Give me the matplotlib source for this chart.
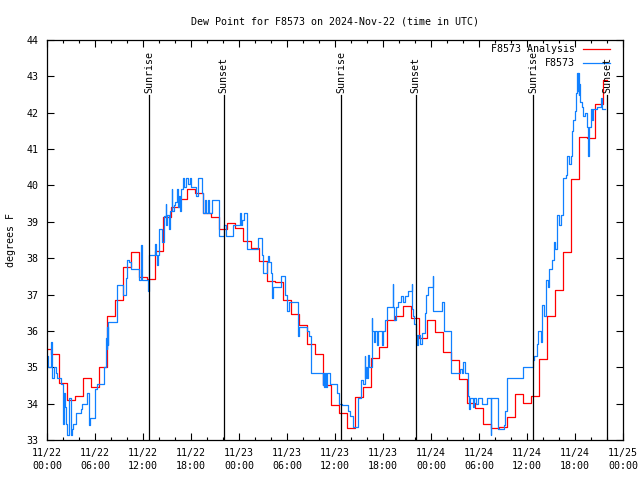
import numpy as np
import matplotlib
matplotlib.use("Agg")
import matplotlib.pyplot as plt
from datetime import datetime, timedelta

# hourly analysis values (hours since 2024-11-22 00:00 UTC)
analysis_hours = list(range(71))
analysis_vals = [35.5, 35.37, 34.57, 34.1, 34.22, 34.7, 34.46, 35.0, 36.4, 36.84,
                 37.77, 38.16, 37.49, 37.43, 38.19, 39.12, 39.42, 39.62, 39.91, 39.78,
                 39.25, 39.14, 38.79, 38.96, 38.82, 38.47, 38.27, 37.92, 37.38, 37.34,
                 36.85, 36.47, 36.16, 35.64, 35.37, 34.51, 33.96, 33.73, 33.32, 34.19,
                 34.47, 35.25, 35.55, 36.3, 36.42, 36.69, 36.36, 35.8, 36.3, 35.98,
                 35.43, 35.2, 34.67, 34.03, 33.89, 33.44, 33.32, 33.37, 33.64, 34.26,
                 34.03, 34.22, 35.22, 36.41, 37.13, 38.18, 40.18, 41.34, 41.3, 42.23,
                 42.9]

# station observations: change times (hours) and values
obs_hours = [0.0, 0.1, 0.54, 0.61, 0.91, 1.09, 1.29, 1.75, 1.96, 2.04,
             2.1, 2.25, 2.38, 2.54, 2.79, 3.0, 3.16, 3.29, 3.63, 4.25,
             4.41, 4.96, 5.25, 5.41, 6.04, 6.21, 7.16, 7.41, 7.48, 7.54,
             7.6, 7.66, 8.79, 9.54, 9.88, 10.04, 10.29, 10.46, 11.54, 11.79,
             11.86, 12.66, 12.79, 13.5, 13.6, 13.79, 13.88, 14.04, 14.34, 14.63,
             14.84, 14.91, 15.0, 15.29, 15.38, 15.59, 15.66, 15.88, 16.0, 16.29,
             16.38, 16.54, 16.63, 16.75, 16.96, 17.16, 17.38, 17.66, 17.88, 18.06,
             18.63, 18.91, 19.34, 19.54, 19.75, 19.84, 20.13, 20.21, 20.59, 21.5,
             22.13, 22.38, 23.21, 24.13, 24.25, 24.38, 24.66, 24.96, 25.04, 26.41,
             26.91, 27.04, 27.54, 27.63, 27.75, 28.0, 28.16, 28.23, 29.25, 29.75,
             29.96, 30.25, 31.41, 31.5, 32.54, 32.75, 33.0, 34.46, 34.54, 34.66,
             34.75, 34.88, 35.0, 35.38, 36.29, 36.54, 36.84, 37.66, 37.88, 38.29,
             38.91, 39.21, 39.54, 39.69, 39.78, 39.88, 40.0, 40.13, 40.25, 40.59,
             40.65, 40.88, 41.0, 41.25, 41.38, 41.88, 42.0, 42.25, 42.54, 43.21,
             43.28, 43.35, 43.59, 43.88, 44.21, 44.54, 44.75, 45.13, 45.59, 45.65,
             45.75, 45.91, 46.13, 46.21, 46.41, 46.63, 46.84, 47.25, 47.38, 47.66,
             48.21, 48.29, 49.41, 49.63, 50.46, 51.63, 51.91, 52.06, 52.19, 52.66,
             52.75, 52.88, 53.25, 53.38, 53.63, 53.91, 54.34, 54.96, 55.46, 55.54,
             56.34, 57.13, 57.31, 57.46, 59.54, 60.79, 60.91, 61.21, 61.34, 61.71,
             61.91, 62.16, 62.38, 62.66, 62.79, 63.09, 63.38, 63.54, 63.75, 64.0,
             64.25, 64.46, 64.5, 64.54, 64.84, 64.96, 65.25, 65.44, 65.59, 65.79,
             66.0, 66.13, 66.29, 66.35, 66.41, 66.48, 66.54, 66.66, 66.84, 67.04,
             67.25, 67.46, 67.66, 67.73, 67.81, 67.96, 68.16, 68.29, 68.71, 69.21,
             69.34, 69.69]
obs_vals = [35.3, 35.0, 35.7, 34.7, 35.0, 34.85, 34.7, 34.55, 34.4, 33.45,
            34.3, 33.9, 33.45, 33.15, 34.15, 33.15, 33.3, 33.45, 33.75, 33.85,
            34.0, 34.3, 33.4, 33.6, 34.4, 34.55, 35.0, 35.8, 35.5, 36.1,
            35.6, 36.25, 37.25, 37.0, 37.45, 37.95, 37.9, 37.7, 37.4, 38.35,
            37.4, 37.1, 38.1, 38.4, 38.1, 37.8, 38.1, 38.8, 38.45, 39.15,
            39.5, 38.9, 39.2, 38.8, 39.3, 39.9, 39.3, 39.45, 39.55, 39.9,
            39.4, 39.7, 39.3, 39.9, 40.2, 39.95, 40.2, 40.05, 40.2, 39.95,
            39.7, 40.2, 39.8, 39.25, 39.6, 39.25, 39.6, 39.25, 39.6, 38.6,
            38.9, 38.6, 38.9, 39.25, 38.9, 39.05, 39.25, 38.9, 38.25, 38.55,
            38.1, 37.6, 37.9, 38.05, 37.9, 37.6, 36.9, 37.2, 37.5, 37.0,
            36.55, 36.8, 35.85, 36.1, 36.0, 35.85, 34.85, 34.5, 34.85, 34.45,
            34.85, 34.45, 34.85, 34.55, 34.3, 34.0, 33.95, 33.8, 33.65, 33.35,
            34.15, 34.65, 34.55, 35.3, 34.7, 35.0, 34.7, 35.35, 35.0, 36.35,
            36.0, 35.7, 36.0, 35.6, 36.0, 35.6, 36.0, 36.3, 36.65, 37.3,
            36.65, 36.3, 36.65, 36.8, 36.95, 36.8, 36.95, 37.1, 37.3, 36.6,
            36.4, 36.2, 35.9, 35.6, 35.9, 35.65, 35.95, 36.5, 37.0, 37.2,
            37.5, 36.55, 36.8, 36.0, 34.85, 34.95, 34.85, 35.15, 34.85, 34.2,
            33.85, 34.15, 33.9, 34.15, 34.0, 34.15, 34.0, 34.15, 33.15, 34.15,
            33.3, 33.4, 33.8, 34.7, 35.0, 35.2, 35.3, 35.65, 36.0, 35.7,
            36.7, 36.4, 37.4, 37.2, 37.7, 37.95, 38.45, 38.25, 39.2, 38.9,
            39.2, 39.55, 39.2, 40.2, 40.3, 40.8, 40.6, 40.8, 41.5, 41.8,
            42.05, 42.55, 43.1, 42.6, 43.1, 42.5, 42.8, 42.3, 42.15, 41.9,
            42.0, 41.6, 40.8, 41.4, 41.6, 42.1, 41.8, 42.1, 42.15, 42.4,
            42.1, 42.1]

sun_hours = [12.75, 22.1, 36.75, 46.1, 60.75, 70.0]
sun_labels = ["Sunrise", "Sunset", "Sunrise", "Sunset", "Sunrise", "Sunset"]

start = datetime(2024, 11, 22)
font = "DejaVu Sans Mono"
fs = 7.2

fig = plt.figure(figsize=(6.4, 4.8), dpi=100)
ax = fig.add_axes([47 / 640, 40 / 480, 576 / 640, 400 / 480])

ax.step(analysis_hours, analysis_vals, where="mid", color="#ff0000", lw=0.9)
ax.step(obs_hours, obs_vals, where="post", color="#1080ff", lw=0.9)

for h, lab in zip(sun_hours, sun_labels):
    ax.plot([h, h], [33, 42.5], color="black", lw=0.9)
    ax.text(h, 42.55, lab, rotation=90, ha="center", va="bottom",
            fontsize=fs, family=font)

ax.set_xlim(0, 72)
ax.set_ylim(33, 44)
ax.set_yticks(range(33, 45))
ax.set_yticklabels([str(v) for v in range(33, 45)], fontsize=fs, family=font)
xt = list(range(0, 73, 6))
ax.set_xticks(xt)
ax.set_xticklabels([(start + timedelta(hours=h)).strftime("%m/%d\n%H:%M") for h in xt],
                   fontsize=fs, family=font, linespacing=1.35)
ax.set_xticks(range(0, 73, 2), minor=True)
ax.tick_params(direction="in", top=True, right=True, length=5, width=0.8, pad=6)
ax.tick_params(axis="x", which="minor", direction="in", top=True, length=2.5, width=0.8)
for s in ax.spines.values():
    s.set_linewidth(0.9)

ax.set_ylabel("degrees F", fontsize=fs, family=font, labelpad=8)
ax.set_title("Dew Point for F8573 on 2024-Nov-22 (time in UTC)", fontsize=fs,
             family=font, pad=11)

# legend drawn by hand, gnuplot style
for i, (lab, col) in enumerate([("F8573 Analysis", "#ff0000"), ("F8573", "#1080ff")]):
    yy = 0.9775 - i * 0.035
    ax.text(0.9167, yy, lab, transform=ax.transAxes, ha="right", va="center",
            fontsize=fs, family=font)
    ax.plot([0.9306, 0.9774], [yy, yy], transform=ax.transAxes, color=col, lw=0.9)

fig.savefig("out.png", dpi=100)
